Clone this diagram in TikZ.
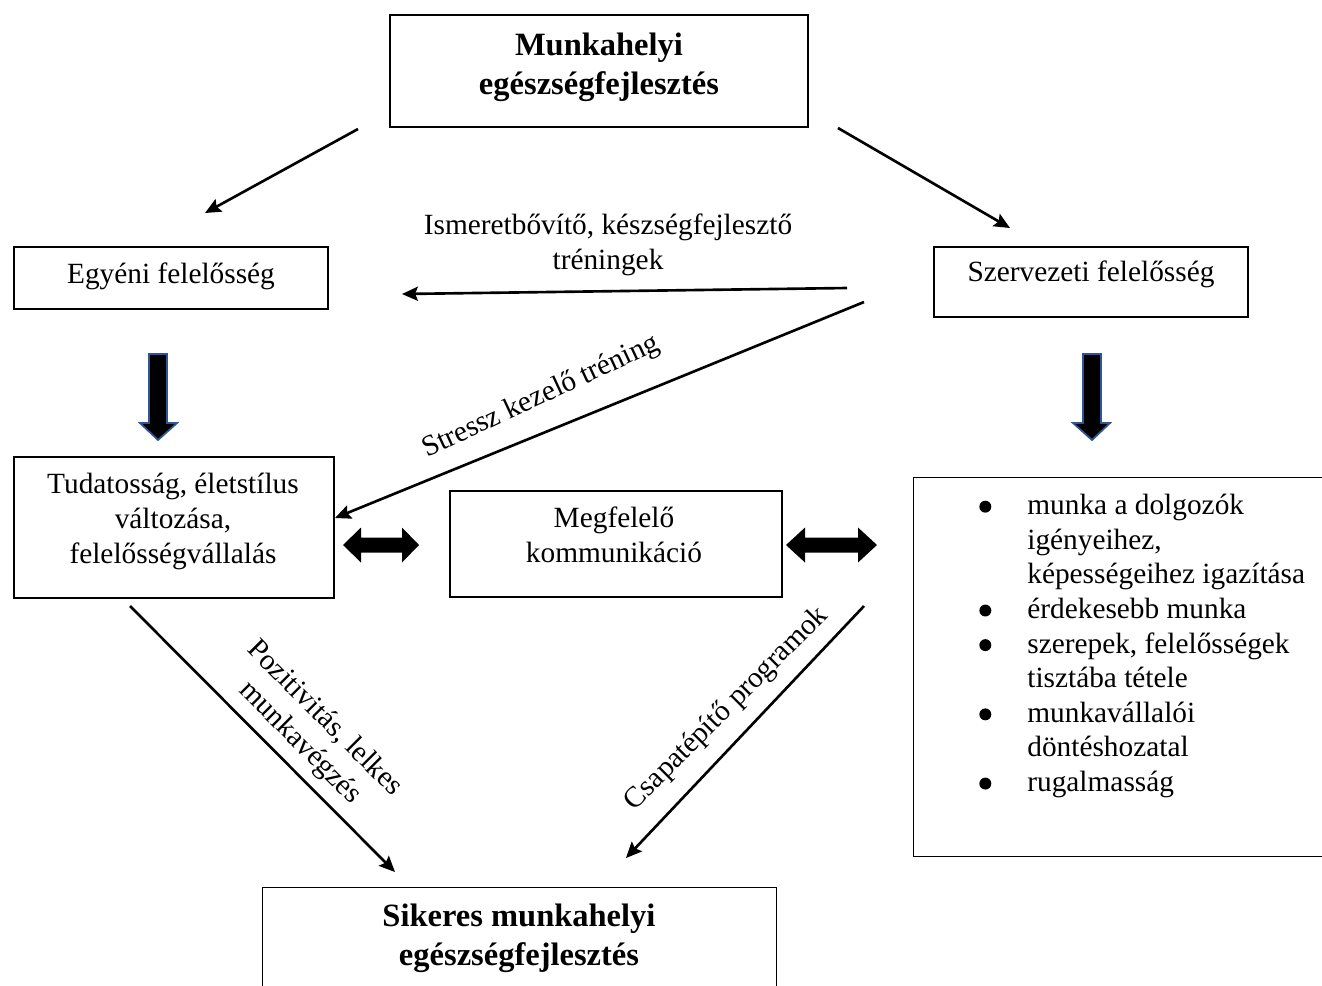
\documentclass[tikz,border=0pt]{standalone}
\usepackage{fontspec}
\setmainfont{Liberation Serif}
\usetikzlibrary{arrows.meta}
\definecolor{arrowblue}{RGB}{47,85,151}
\newcommand\listdot{\tikz[baseline=-4.5pt]\fill (0,0) circle (3.4pt);}
\tikzset{
  box/.style={draw, line width=0.8pt, inner sep=0pt},
  bold/.style={font=\fontsize{18.5}{22}\selectfont\bfseries},
  conn/.style={line width=1.5pt, -{Stealth[length=9pt,width=8pt,inset=1.5pt]}},
  blockarrow/.style={fill=black, draw=arrowblue, line width=1pt},
  lbl/.style={align=center, inner sep=0pt}
}
\begin{document}
\begin{tikzpicture}[x=0.02cm,y=-0.02cm,font=\fontsize{16.7}{19.7}\selectfont]
\useasboundingbox (0,0) rectangle (1322,985);
% boxes
\node[box, minimum width=8.36cm, minimum height=2.24cm] (top) at (599,71) {};
\node[lbl, bold] (toptxt) at (599,67) {Munkahelyi\\egészségfejlesztés};
\node[box, minimum width=6.28cm, minimum height=1.24cm] (egyeni) at (171,278) {};
\node[lbl] (egyenitxt) at (171,276) {Egyéni felelősség};
\node[box, minimum width=6.28cm, minimum height=1.4cm] (szerv) at (1091,282) {};
\node[lbl] (szervtxt) at (1091,274) {Szervezeti felelősség};
\node[box, minimum width=6.4cm, minimum height=2.82cm] (tudat) at (174,527.5) {};
\node[lbl] (tudattxt) at (173,521.5) {Tudatosság, életstílus\\változása,\\felelősségvállalás};
\node[box, minimum width=6.64cm, minimum height=2.12cm] (komm) at (616,544) {};
\node[lbl] (kommtxt) at (614,535) {Megfelelő\\kommunikáció};
\node[box, anchor=north west, minimum width=8.8cm, minimum height=7.58cm] (jobb) at (913,477) {};
\node[anchor=north west, inner sep=0pt] (lista) at (979,490) {%
\begin{tabular}{@{}p{0.96cm}@{}l@{}}
\listdot & munka a dolgozók\\
 & igényeihez,\\
 & képességeihez igazítása\\
\listdot & érdekesebb munka\\
\listdot & szerepek, felelősségek\\
 & tisztába tétele\\
\listdot & munkavállalói\\
 & döntéshozatal\\
\listdot & rugalmasság
\end{tabular}};
\node[box, anchor=north west, minimum width=10.28cm, minimum height=3cm] (siker) at (262,887) {};
\node[lbl, bold] (sikertxt) at (519,938.5) {Sikeres munkahelyi\\egészségfejlesztés};

% arrows
\coordinate (t1) at (358,129);
\coordinate (e1) at (205,213);
\coordinate (t2) at (838,128);
\coordinate (s1) at (1010,228);
\coordinate (s2) at (847,288);
\coordinate (e2) at (402,294);
\coordinate (s3) at (864,302);
\coordinate (u1) at (335,518);
\coordinate (u2) at (130,606);
\coordinate (b1) at (395,872);
\coordinate (j1) at (864,606);
\coordinate (b2) at (626,858);
\draw[conn] (t1) -- (e1);
\draw[conn] (t2) -- (s1);
\draw[conn] (s2) -- (e2);
\draw[conn] (s3) -- (u1);
\draw[conn] (u2) -- (b1);
\draw[conn] (j1) -- (b2);

% labels
\node[lbl] (ism) at (608,245) {Ismeretbővítő, készségfejlesztő\\tréningek};
\node[lbl, rotate=25] (stressz) at (541,397) {Stressz kezelő tréning};
\node[lbl, rotate=-45] (pozit) at (312,731) {Pozitivitás, lelkes\\munkavégzés};
\node[lbl, rotate=45] (csapat) at (727,709) {Csapatépítő programok};

% block arrows
\draw[blockarrow] (149,354) -- (167,354) -- (167,423) -- (177,423) -- (158,440) -- (140,423) -- (149,423) -- cycle;
\draw[blockarrow] (1083,354) -- (1101,354) -- (1101,423) -- (1110,423) -- (1092,440) -- (1073,423) -- (1083,423) -- cycle;
\fill (343,545) -- (361,527.5) -- (361,537.5) -- (402,537.5) -- (402,527.5) -- (419,545) -- (402,562.5) -- (402,552.5) -- (361,552.5) -- (361,562.5) -- cycle;
\fill (786,545) -- (805,527.5) -- (805,537.5) -- (858,537.5) -- (858,527.5) -- (877,545) -- (858,562.5) -- (858,552.5) -- (805,552.5) -- (805,562.5) -- cycle;
\end{tikzpicture}
\end{document}
